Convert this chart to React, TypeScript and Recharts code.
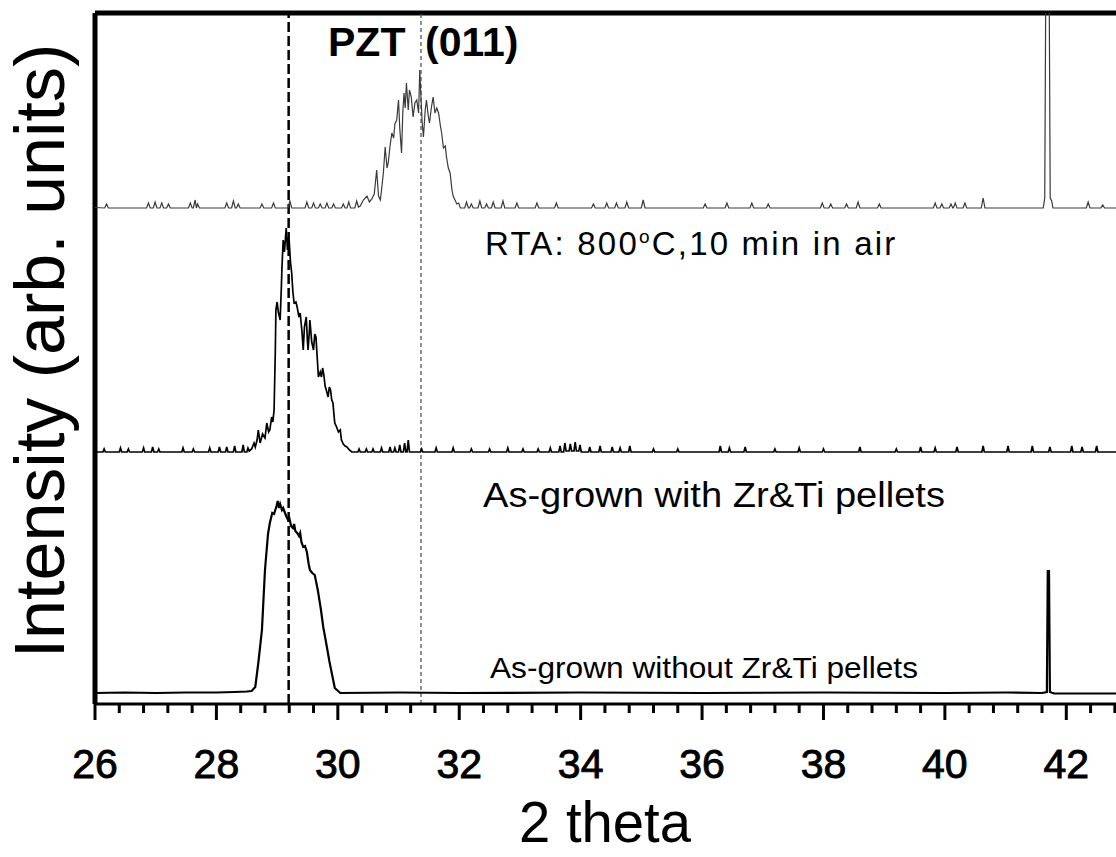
import React from 'react';
import { LineChart, Line, XAxis, YAxis, ReferenceLine, Customized } from 'recharts';

// 2-theta tick values (majors every 2, minors every 0.4)
const xTicks = [
  26, 26.4, 26.8, 27.2, 27.6, 28, 28.4, 28.8, 29.2, 29.6, 30, 30.4, 30.8, 31.2, 31.6, 32,
  32.4, 32.8, 33.2, 33.6, 34, 34.4, 34.8, 35.2, 35.6, 36, 36.4, 36.8, 37.2, 37.6, 38,
  38.4, 38.8, 39.2, 39.6, 40, 40.4, 40.8, 41.2, 41.6, 42, 42.4, 42.8,
];

// vertical offsets of the stacked patterns (arb. units)
const RTA_OFFSET = 496;
const WITH_OFFSET = 252;
const WITHOUT_OFFSET = 10;

// reference peak positions
const dashMainPos = 29.19;
const dashPztPos = 31.37;

// RTA: 800oC, 10 min in air  — [2theta, intensity]
const rtaPoints: [number, number][] = [
  [26.0, 0.5], [26.16, 0], [26.19, 4], [26.22, 0], [26.85, 0], [26.88, 5], [26.91, 0],
  [26.96, 0], [26.99, 6], [27.02, 0], [27.07, 0], [27.1, 5], [27.13, 0], [27.18, 0], [27.21, 4], [27.24, 0],
  [27.54, 0], [27.57, 5], [27.6, 0], [27.62, 0], [27.65, 8], [27.67, 0], [27.69, 4], [27.72, 0],
  [28.14, 0], [28.17, 5], [28.2, 0], [28.25, 0], [28.28, 7], [28.31, 0], [28.33, 0], [28.36, 4], [28.39, 0],
  [28.72, 0], [28.75, 4], [28.78, 0], [28.91, 0], [28.94, 5], [28.97, 0], [29.18, 0], [29.21, 7], [29.24, 0],
  [29.46, 0], [29.49, 6], [29.52, 0], [29.57, 0], [29.6, 5], [29.63, 0], [29.68, 0], [29.71, 4], [29.74, 0],
  [29.79, 0], [29.82, 5], [29.85, 0], [29.9, 0], [29.93, 4], [29.96, 0], [30.06, 0], [30.09, 4], [30.12, 0],
  [30.15, 0], [30.18, 6], [30.21, 0], [30.28, 0], [30.31, 7], [30.34, 1],
  [30.37, 2], [30.42, 8], [30.48, 12], [30.52, 6], [30.56, 9], [30.6, 14], [30.64, 38], [30.67, 12],
  [30.7, 8], [30.72, 18], [30.75, 35], [30.78, 61], [30.81, 40], [30.83, 45], [30.86, 62], [30.89, 75],
  [30.92, 70], [30.94, 84], [30.97, 88], [31.0, 108], [31.02, 80], [31.05, 55], [31.07, 95], [31.09, 115],
  [31.11, 100], [31.13, 125], [31.16, 98], [31.18, 118], [31.21, 111], [31.24, 91], [31.27, 105],
  [31.3, 108], [31.33, 95], [31.35, 138], [31.37, 110], [31.39, 85], [31.41, 71], [31.44, 98], [31.46, 108],
  [31.49, 92], [31.51, 85], [31.54, 100], [31.57, 111], [31.6, 95], [31.63, 100], [31.66, 95], [31.69, 82],
  [31.71, 75], [31.74, 60], [31.77, 62], [31.79, 51], [31.82, 40], [31.85, 35], [31.88, 18], [31.9, 12],
  [31.93, 8], [31.96, 4], [31.99, 5], [32.02, 0],
  [32.09, 0], [32.12, 6], [32.15, 0], [32.17, 0], [32.2, 4], [32.23, 0], [32.31, 0], [32.34, 7], [32.37, 0],
  [32.42, 0], [32.45, 4], [32.48, 0], [32.53, 0], [32.56, 6], [32.59, 0], [32.69, 0], [32.72, 7], [32.75, 0],
  [32.92, 0], [32.95, 5], [32.98, 0], [33.25, 0], [33.28, 5], [33.31, 0], [33.57, 0], [33.6, 5], [33.63, 0],
  [34.18, 0], [34.21, 4], [34.24, 0], [34.4, 0], [34.43, 5], [34.46, 0], [34.56, 0], [34.59, 5], [34.62, 0],
  [34.73, 0], [34.76, 6], [34.79, 0], [35.0, 0], [35.03, 8], [35.06, 0], [36.02, 0], [36.05, 4], [36.08, 0],
  [36.38, 0], [36.41, 5], [36.44, 0], [36.79, 0], [36.82, 5], [36.85, 0], [37.06, 0], [37.09, 4], [37.12, 0],
  [37.95, 0], [37.98, 5], [38.01, 0], [38.09, 0], [38.12, 4], [38.15, 0], [38.35, 0], [38.38, 4], [38.41, 0],
  [38.54, 0], [38.57, 6], [38.6, 0], [38.89, 0], [38.92, 4], [38.95, 0], [39.81, 0], [39.84, 5], [39.87, 0],
  [39.92, 0], [39.95, 4], [39.98, 0], [40.07, 0], [40.1, 4], [40.13, 0], [40.14, 0], [40.17, 5], [40.2, 0],
  [40.3, 0], [40.33, 5], [40.36, 0], [40.6, 0], [40.63, 10], [40.66, 0],
  [41.62, 0], [41.645, 10], [41.665, 260], [41.715, 260], [41.735, 10], [41.76, 7], [41.78, 0],
  [42.33, 0], [42.36, 6], [42.39, 0], [42.57, 0], [42.6, 3], [42.63, 0], [43.0, 0],
];

// As-grown with Zr&Ti pellets — [2theta, intensity]
const withPoints: [number, number][] = [
  [26.0, 0], [26.13, 0], [26.15, 3], [26.17, 0], [26.4, 0], [26.42, 4], [26.44, 0], [26.53, 0], [26.55, 3], [26.57, 0],
  [26.78, 0], [26.8, 4], [26.82, 0], [26.93, 0], [26.95, 5], [26.97, 0], [27.03, 0], [27.05, 3], [27.07, 0],
  [27.43, 0], [27.45, 4], [27.47, 0], [27.6, 0], [27.62, 3], [27.64, 0], [27.87, 0], [27.89, 4], [27.91, 0],
  [28.03, 0], [28.05, 5], [28.07, 0], [28.15, 0], [28.17, 5], [28.19, 0], [28.28, 0], [28.3, 6], [28.32, 0],
  [28.42, 0], [28.44, 7], [28.46, 0], [28.5, 0], [28.52, 4], [28.54, 1],
  [28.58, 3], [28.62, 9], [28.64, 5], [28.67, 12], [28.69, 22], [28.72, 9], [28.76, 18], [28.8, 14],
  [28.83, 29], [28.86, 20], [28.88, 22], [28.91, 35], [28.93, 30], [28.95, 42], [28.97, 100], [28.98, 142],
  [29.0, 150], [29.02, 140], [29.05, 132], [29.07, 165], [29.08, 185], [29.1, 212], [29.12, 200], [29.15, 224],
  [29.17, 202], [29.19, 215], [29.2, 210], [29.22, 190], [29.24, 179], [29.26, 160], [29.28, 149], [29.31, 150],
  [29.33, 145], [29.36, 135], [29.38, 139], [29.41, 120], [29.43, 102], [29.45, 125], [29.48, 135], [29.5, 110],
  [29.51, 102], [29.53, 120], [29.54, 132], [29.57, 110], [29.6, 102], [29.62, 118], [29.64, 115], [29.66, 95],
  [29.68, 75], [29.71, 80], [29.73, 75], [29.75, 84], [29.77, 77], [29.79, 66], [29.81, 62], [29.84, 55],
  [29.86, 65], [29.88, 62], [29.9, 52], [29.92, 49], [29.94, 35], [29.95, 29], [29.98, 25], [30.01, 20],
  [30.04, 22], [30.06, 12], [30.09, 8], [30.12, 6], [30.15, 5], [30.19, 2], [30.23, 0],
  [30.33, 0], [30.35, 3], [30.37, 0], [30.45, 0], [30.47, 3], [30.49, 0], [30.56, 0], [30.58, 3], [30.6, 0],
  [30.7, 0], [30.72, 4], [30.74, 0], [30.84, 0], [30.86, 5], [30.88, 0], [30.92, 0], [30.94, 4], [30.96, 0],
  [31.0, 0], [31.02, 7], [31.04, 0], [31.08, 0], [31.1, 9], [31.12, 0], [31.14, 0], [31.16, 12], [31.18, 0],
  [31.36, 0], [31.38, 3], [31.4, 0], [31.6, 0], [31.62, 4], [31.64, 0], [31.88, 0], [31.9, 4], [31.92, 0],
  [32.18, 0], [32.2, 3], [32.22, 0], [32.48, 0], [32.5, 3], [32.52, 0], [32.78, 0], [32.8, 4], [32.82, 0],
  [33.03, 0], [33.05, 3], [33.07, 0], [33.28, 0], [33.3, 3], [33.32, 0], [33.48, 0], [33.5, 4], [33.52, 0],
  [33.64, 0], [33.66, 6], [33.68, 0], [33.72, 0], [33.74, 9], [33.76, 1], [33.81, 1], [33.83, 8], [33.85, 1],
  [33.89, 1], [33.91, 10], [33.93, 1], [33.97, 1], [33.99, 7], [34.01, 0], [34.13, 0], [34.15, 5], [34.17, 0],
  [34.3, 0], [34.32, 6], [34.34, 0], [34.5, 0], [34.52, 5], [34.54, 0], [34.63, 0], [34.65, 4], [34.67, 0],
  [34.79, 0], [34.81, 6], [34.83, 0], [35.18, 0], [35.2, 3], [35.22, 0], [35.58, 0], [35.6, 3], [35.62, 0],
  [36.28, 0], [36.3, 6], [36.32, 0], [36.43, 0], [36.45, 4], [36.47, 0], [36.69, 0], [36.71, 5], [36.73, 0],
  [37.18, 0], [37.2, 3], [37.22, 0], [37.58, 0], [37.6, 4], [37.62, 0], [37.98, 0], [38.0, 3], [38.02, 0],
  [38.58, 0], [38.6, 5], [38.62, 0], [39.18, 0], [39.2, 3], [39.22, 0], [39.58, 0], [39.6, 5], [39.62, 0],
  [39.82, 0], [39.84, 4], [39.86, 0], [40.18, 0], [40.2, 5], [40.22, 0], [40.61, 0], [40.63, 6], [40.65, 0],
  [41.02, 0], [41.04, 6], [41.06, 0], [41.42, 0], [41.44, 6], [41.46, 0], [41.71, 0], [41.73, 5], [41.75, 0],
  [42.07, 0], [42.09, 6], [42.11, 0], [42.24, 0], [42.26, 5], [42.28, 0], [42.48, 0], [42.5, 6], [42.52, 0],
  [43.0, 0],
];

// As-grown without Zr&Ti pellets — [2theta, intensity]
const withoutPoints: [number, number][] = [
  [26.0, 1], [26.5, 1.5], [27.0, 1], [27.5, 1.5], [28.0, 1.5], [28.3, 2], [28.5, 2.5], [28.58, 3],
  [28.64, 7], [28.69, 31], [28.75, 64], [28.8, 124], [28.85, 160], [28.88, 171], [28.92, 181], [28.95, 180],
  [28.97, 184], [28.99, 188], [29.01, 193], [29.03, 186], [29.05, 190], [29.08, 184], [29.1, 186], [29.13, 181],
  [29.15, 178], [29.18, 174], [29.2, 176], [29.23, 168], [29.26, 166], [29.28, 170], [29.3, 163], [29.33, 161],
  [29.36, 158], [29.38, 161], [29.4, 152], [29.43, 147], [29.46, 148], [29.49, 142], [29.52, 130], [29.54, 124],
  [29.58, 121], [29.62, 119], [29.67, 104], [29.72, 85], [29.76, 67], [29.82, 47], [29.86, 33], [29.9, 21],
  [29.95, 6], [30.04, 1], [31.0, 1.5], [32.0, 1], [34.0, 1.5], [36.0, 1], [38.0, 1.5], [40.0, 1], [41.0, 1.5],
  [41.6, 1], [41.68, 2], [41.695, 123], [41.715, 123], [41.73, 2], [41.8, 0.5], [43.0, 0.5],
];

const rtaData = rtaPoints.map(([t, i]) => ({ t, v: i + RTA_OFFSET }));
const withData = withPoints.map(([t, i]) => ({ t, v: i + WITH_OFFSET }));
const withoutData = withoutPoints.map(([t, i]) => ({ t, v: i + WITHOUT_OFFSET }));

const FONT = '"Liberation Sans", Arial, Helvetica, sans-serif';

const isMajor = (v: number) => Math.abs(v - Math.round(v)) < 1e-6 && Math.round(v) % 2 === 0;

const XTick = (props: any) => {
  const { x, y, payload } = props;
  const v = payload.value as number;
  const major = isMajor(v);
  return (
    <g>
      <line x1={x} x2={x} y1={y} y2={y + (major ? 16 : 9)} stroke="#000" strokeWidth={3} />
      {major && (
        <text
          x={x}
          y={y + 74}
          textAnchor="middle"
          fontFamily={FONT}
          fontSize={41}
          fill="#000"
          stroke="#000"
          strokeWidth={0.9}
        >
          {Math.round(v)}
        </text>
      )}
    </g>
  );
};

const Annotations = () => (
  <g fontFamily={FONT} fill="#000">
    <text transform="translate(64,351) rotate(-90)" textAnchor="middle" fontSize={70}>
      Intensity (arb. units)
    </text>
    <text x={605} y={842} textAnchor="middle" fontSize={58} textLength={172} lengthAdjust="spacingAndGlyphs">
      2 theta
    </text>
    <text x={328} y={56} fontSize={41} fontWeight="bold">PZT</text>
    <text x={425} y={56} fontSize={41} fontWeight="bold">(011)</text>
    <text x={485} y={255} fontSize={33} letterSpacing={2.2}>
      RTA: 800<tspan fontSize={19} dy={-12}>o</tspan><tspan dy={12}>C,10 min in air</tspan>
    </text>
    <text x={483} y={507} fontSize={35} textLength={462} lengthAdjust="spacingAndGlyphs">
      As-grown with Zr&amp;Ti pellets
    </text>
    <text x={490} y={678} fontSize={30} textLength={428} lengthAdjust="spacingAndGlyphs">
      As-grown without Zr&amp;Ti pellets
    </text>
  </g>
);

export default function App() {
  return (
    <div
      style={{
        position: 'absolute',
        left: 0,
        top: 0,
        width: 1116,
        height: 857,
        overflow: 'hidden',
        background: '#fff',
      }}
    >
      <LineChart width={1132} height={857} margin={{ top: 13, right: 5, bottom: 0, left: 95 }}>
        <XAxis
          type="number"
          dataKey="t"
          domain={[26, 43]}
          ticks={xTicks}
          interval={0}
          allowDataOverflow
          height={153}
          tickSize={0}
          tickMargin={0}
          tickLine={false}
          axisLine={{ stroke: '#000', strokeWidth: 3 }}
          tick={<XTick />}
        />
        <YAxis type="number" dataKey="v" domain={[0, 691]} allowDataOverflow hide />
        <ReferenceLine x={26} stroke="#000" strokeWidth={5} />
        <ReferenceLine y={691} stroke="#000" strokeWidth={5} />
        <ReferenceLine x={dashMainPos} stroke="#000" strokeWidth={2.5} strokeDasharray="10 4" />
        <ReferenceLine x={dashPztPos} stroke="#555" strokeWidth={1.3} strokeDasharray="4 3" />
        <Line
          data={rtaData}
          dataKey="v"
          type="linear"
          stroke="#3a3a3a"
          strokeWidth={1.2}
          dot={false}
          activeDot={false}
          isAnimationActive={false}
        />
        <Line
          data={withData}
          dataKey="v"
          type="linear"
          stroke="#000"
          strokeWidth={1.7}
          dot={false}
          activeDot={false}
          isAnimationActive={false}
        />
        <Line
          data={withoutData}
          dataKey="v"
          type="linear"
          stroke="#000"
          strokeWidth={2.2}
          dot={false}
          activeDot={false}
          isAnimationActive={false}
        />
        <Customized component={<Annotations />} />
      </LineChart>
    </div>
  );
}
